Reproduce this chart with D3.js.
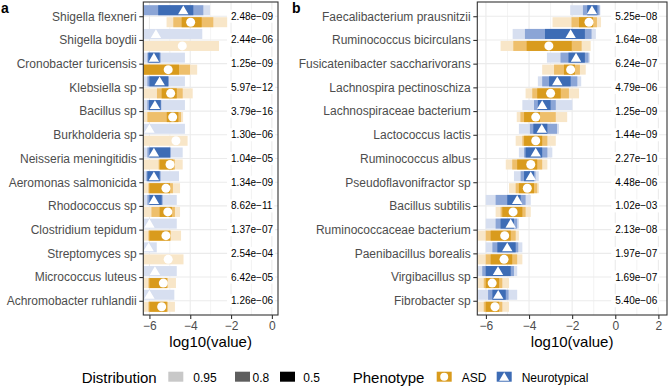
<!DOCTYPE html>
<html><head><meta charset="utf-8">
<script src="https://cdn.jsdelivr.net/npm/d3@7"></script>
<style>
body{margin:0;background:#fff}
svg{display:block}
text{font-family:"Liberation Sans",Arial,Helvetica,sans-serif}
</style>
</head><body>
<svg id="c" width="668" height="387"></svg>
<script>
// ---------------- DATA ----------------
// each row: [lo95, lo80, lo50, median, hi50, hi80, hi95] of log10(value); null = interval not visible
const taxaA = ["Shigella flexneri","Shigella boydii","Cronobacter turicensis","Klebsiella sp","Bacillus sp","Burkholderia sp","Neisseria meningitidis","Aeromonas salmonicida","Rhodococcus sp","Clostridium tepidum","Streptomyces sp","Micrococcus luteus","Achromobacter ruhlandii"];
const pvalA = ["2.48e−09","2.44e−06","1.25e−09","5.97e−12","3.79e−16","1.30e−06","1.04e−05","1.34e−09","8.62e−11","1.37e−07","2.54e−04","6.42e−05","1.26e−06"];
const neuroA = [
  [-7,-6.5,-5.57,-4.34,-3.85,-3.36,-3.03],
  [-7,null,null,-5.68,null,null,-3.41],
  [-7,-6.1,-6.05,-5.78,-5.5,-5.45,-4.26],
  [-7,-6.1,-6.0,-5.5,-5.08,-5.05,-4.26],
  [-7,-6.1,-6.02,-5.73,-5.45,-5.42,-4.26],
  [-7,null,null,-6.0,null,null,-4.26],
  [-7,-6.1,-6.0,-5.78,-4.99,-4.95,-4.37],
  [-7,-6.15,-6.1,-5.78,-5.5,-5.45,-4.55],
  [-7,-6.1,-6.0,-5.78,-5.4,-5.35,-4.66],
  [-7,null,null,-6.0,null,null,-4.66],
  [-7,null,null,-6.04,null,null,-5.64],
  [-7,null,null,-5.73,null,null,-4.66],
  [-7,null,null,-6.0,null,null,-4.78]
];
const asdA = [
  [-5.16,-4.83,-4.42,-3.98,-3.44,-2.87,-2.19],
  [-7,null,null,-4.39,null,null,-2.59],
  [-7,-7,-7,-5.08,-4.55,-4.01,-3.66],
  [-7,-5.63,-5.4,-4.96,-4.66,-4.37,-3.88],
  [-7,-6.1,-5.15,-4.86,-4.58,-4.45,-4.35],
  [-7,null,null,-4.7,null,null,-4.13],
  [-7,-5.55,-5.5,-4.99,-4.83,-4.75,-4.37],
  [-7,-6.05,-6.0,-5.19,-4.99,-4.85,-4.5],
  [-7,-5.9,-5.5,-5.1,-4.9,-4.75,-4.5],
  [-7,-6.05,-6.0,-5.19,-4.99,-4.95,-4.45],
  [-7,null,null,-5.08,null,null,-4.33],
  [-7,-6.05,-6.0,-5.32,-5.15,-5.1,-4.7],
  [-7,-6.05,-6.0,-5.4,-5.15,-5.1,-4.75]
];
const taxaB = ["Faecalibacterium prausnitzii","Ruminococcus bicirculans","Fusicatenibacter saccharivorans","Lachnospira pectinoschiza","Lachnospiraceae bacterium","Lactococcus lactis","Ruminococcus albus","Pseudoflavonifractor sp","Bacillus subtilis","Ruminococcaceae bacterium","Paenibacillus borealis","Virgibacillus sp","Fibrobacter sp"];
const pvalB = ["5.25e−08","1.64e−08","6.24e−07","4.79e−06","1.25e−09","1.44e−09","2.27e−10","4.48e−06","1.02e−03","2.13e−08","1.97e−07","1.69e−07","5.40e−06"];
const neuroB = [
  [-2.09,-1.5,-1.3,-1.08,-0.83,-0.73,-0.69],
  [-4.76,-4.19,-3.26,-2.07,-1.41,-1.1,-0.9],
  [-3.17,-2.54,-2.17,-1.82,-1.41,-1.24,-1.17],
  [-3.59,-3.39,-3.07,-2.69,-2.07,-1.76,-1.58],
  [-4.31,-3.77,-3.59,-3.39,-3.0,-2.76,-1.99],
  [-4.47,-3.96,-3.8,-3.41,-3.15,-2.7,-2.61],
  [-4.47,-4.23,-4.16,-3.69,-3.39,-3.15,-2.92],
  [-4.7,-4.39,-4.23,-3.92,-3.77,-3.7,-3.55],
  [-6.01,-5.55,-5.01,-4.55,-4.39,-4.16,-3.92],
  [-6.01,-5.55,-5.32,-4.85,-4.7,-4.55,-4.47],
  [-6.01,-5.7,-5.47,-5.01,-4.62,-4.5,-4.31],
  [-6.5,-6.17,-6.01,-5.44,-4.85,-4.7,-4.55],
  [-6.5,-5.9,-5.7,-5.43,-5.08,-4.95,-4.55]
];
const asdB = [
  [-2.91,-2.03,-1.68,-1.22,-1.03,-0.85,-0.66],
  [-5.32,-4.73,-4.11,-3.08,-2.02,-1.56,-1.14],
  [-3.39,-2.84,-2.38,-2.07,-1.87,-1.64,-1.37],
  [-4.16,-3.85,-3.62,-3.0,-2.53,-2.15,-1.68],
  [-4.57,-4.4,-4.23,-3.69,-3.49,-2.76,-2.23],
  [-4.62,-4.31,-4.23,-3.69,-3.39,-3.15,-2.76],
  [-5.08,-4.78,-4.55,-3.92,-3.62,-3.39,-3.15],
  [-4.93,-4.62,-4.47,-4.08,-3.77,-3.62,-3.54],
  [-5.55,-5.32,-5.24,-4.74,-4.31,-4.16,-3.92],
  [-6.5,-6.01,-5.78,-5.13,-4.85,-4.62,-4.47],
  [-6.5,-6.01,-5.78,-5.16,-4.78,-4.55,-4.31],
  [-6.5,-6.1,-6.01,-5.71,-5.39,-5.24,-4.93],
  [-6.5,-6.1,-6.01,-5.58,-5.39,-5.24,-4.93]
];
const ticksA = [-6,-4,-2,0];
const ticksB = [-6,-4,-2,0,2];
const distLevels = ["0.95","0.8","0.5"];
const phenotypes = ["ASD","Neurotypical"];

// ---------------- STYLE ----------------
const colors = {
  Neurotypical: ["#d7dff0","#8ba5d6","#3d6cb5"],
  ASD: ["#f8e6c8","#eebf6c","#d99b1d"]
};
const greyKeys = ["#c8c8c8","#5e5e5e","#000000"];

const svg = d3.select("#c");
const yTop = 2, yBot = 315;

function panel(id, taxa, pvals, neuro, asd, xr, dom, ticks, labelX, letterX){
  const x = d3.scaleLinear().domain(dom).range(xr);
  const y = d3.scalePoint().domain(taxa).range([yTop,yBot]).padding(0.6);
  const g = svg.append("g");
  const minor = d3.range(Math.ceil(dom[0]), Math.floor(dom[1])+1).filter(v=>ticks.indexOf(v)<0);
  g.selectAll(".gmin").data(minor).join("line")
    .attr("x1",d=>x(d)).attr("x2",d=>x(d)).attr("y1",yTop).attr("y2",yBot)
    .attr("stroke","#ebebeb").attr("stroke-width",0.6);
  g.selectAll(".gmaj").data(ticks).join("line")
    .attr("x1",d=>x(d)).attr("x2",d=>x(d)).attr("y1",yTop).attr("y2",yBot)
    .attr("stroke","#ebebeb").attr("stroke-width",1.1);
  g.selectAll(".gh").data(taxa).join("line")
    .attr("x1",xr[0]).attr("x2",xr[1]).attr("y1",d=>y(d)).attr("y2",d=>y(d))
    .attr("stroke","#ebebeb").attr("stroke-width",1.1);

  const clipId = "clip"+id;
  svg.append("clipPath").attr("id",clipId).append("rect")
    .attr("x",xr[0]).attr("y",yTop).attr("width",xr[1]-xr[0]).attr("height",yBot-yTop);
  const pg = g.append("g").attr("clip-path",`url(#${clipId})`);

  const lab = pg.append("g");
  taxa.forEach((t,i)=>{
    const tx = lab.append("text").attr("x",x(labelX)).attr("y",y(t)).attr("dy","0.35em")
      .attr("font-size",10).attr("fill","#000").text(pvals[i]);
    const w = tx.node().getComputedTextLength();
    lab.insert("rect","text").attr("x",x(labelX)-4).attr("y",y(t)-6.5).attr("width",w+6).attr("height",13).attr("fill","#fff");
  });

  const h = 10, off = 6;
  function drawSeries(data, phen, dy){
    const cols = colors[phen];
    data.forEach((r,i)=>{
      const cy = y(taxa[i]) + dy;
      const ivs = [[r[0],r[6]],[r[1],r[5]],[r[2],r[4]]];
      ivs.forEach((iv,k)=>{
        if(iv[0]==null||iv[1]==null) return;
        pg.append("rect").attr("x",x(iv[0])).attr("width",x(iv[1])-x(iv[0]))
          .attr("y",cy-h/2).attr("height",h).attr("fill",cols[k]);
      });
      const px = x(r[3]);
      if(phen==="ASD"){
        pg.append("circle").attr("cx",px).attr("cy",cy).attr("r",4.5).attr("fill","#fff");
      } else {
        pg.append("path").attr("d",`M${px},${cy-4.8}L${px+5.2},${cy+4}L${px-5.2},${cy+4}Z`).attr("fill","#fff");
      }
    });
  }
  drawSeries(neuro,"Neurotypical",-off);
  drawSeries(asd,"ASD",off);

  g.append("rect").attr("x",xr[0]).attr("y",yTop).attr("width",xr[1]-xr[0]).attr("height",yBot-yTop)
    .attr("fill","none").attr("stroke","#333").attr("stroke-width",1.1);

  const ax = g.append("g").attr("transform",`translate(0,${yBot})`)
    .call(d3.axisBottom(x).tickValues(ticks).tickFormat(d3.format("d")).tickSize(4).tickPadding(2.5));
  ax.select(".domain").remove();
  ax.selectAll("line").attr("stroke","#333").attr("stroke-width",1.1);
  ax.selectAll("text").attr("fill","#4d4d4d").attr("font-size",12).attr("font-family",null);
  const ay = g.append("g").attr("transform",`translate(${xr[0]},0)`)
    .call(d3.axisLeft(y).tickSize(4).tickPadding(2.6));
  ay.select(".domain").remove();
  ay.selectAll("line").attr("stroke","#333").attr("stroke-width",1.1);
  ay.selectAll("text").attr("fill","#4d4d4d").attr("font-size",12).attr("font-family",null);

  g.append("text").attr("x",(xr[0]+xr[1])/2).attr("y",346.5).attr("text-anchor","middle")
    .attr("font-size",15).attr("fill","#000").text("log10(value)");
  g.append("text").attr("x",letterX).attr("y",12.5).attr("font-size",14).attr("font-weight","bold").text(id);
}

panel("a", taxaA, pvalA, neuroA, asdA, [143.3,278], [-6.3,0.3], ticksA, -2, 1);
panel("b", taxaB, pvalB, neuroB, asdB, [477.3,667], [-6.4,2.4], ticksB, 0, 292);

// ---------------- LEGENDS ----------------
const lg = svg.append("g");
lg.append("text").attr("x",81.7).attr("y",382.5).attr("font-size",15).text("Distribution");
const dKeyX = [168.3,235,280], dLabX = [193.3,252.5,303.3];
distLevels.forEach((d,i)=>{
  lg.append("rect").attr("x",dKeyX[i]).attr("y",371.7).attr("width",15).attr("height",10).attr("fill",greyKeys[i]);
  lg.append("text").attr("x",dLabX[i]).attr("y",381.5).attr("font-size",12).text(d);
});
lg.append("text").attr("x",352.7).attr("y",382.5).attr("font-size",15).text("Phenotype");
const pKeyX = [436.7,496.7], pLabX = [461.7,521.7];
phenotypes.forEach((p,i)=>{
  const c = colors[p][2];
  const kx = pKeyX[i], ky = 371.7;
  lg.append("rect").attr("x",kx).attr("y",ky).attr("width",15).attr("height",10).attr("fill",c);
  const cx = kx+7.5, cy = ky+5;
  if(p==="ASD") lg.append("circle").attr("cx",cx).attr("cy",cy).attr("r",4).attr("fill","#fff");
  else lg.append("path").attr("d",`M${cx},${cy-4.5}L${cx+5},${cy+4}L${cx-5},${cy+4}Z`).attr("fill","#fff");
  lg.append("text").attr("x",pLabX[i]).attr("y",381.5).attr("font-size",12).text(p);
});
</script>
</body></html>
